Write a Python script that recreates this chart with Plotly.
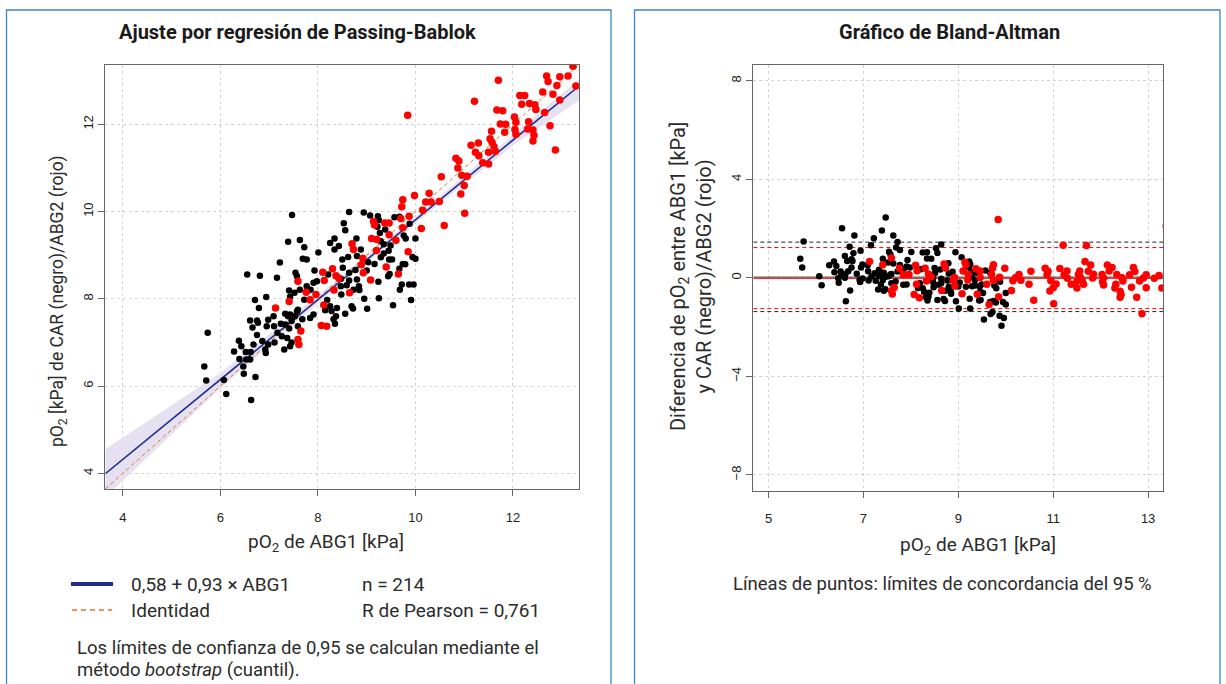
import plotly.graph_objects as go

W, H = 1226, 684

# ---------------- data ----------------
abg1_black = [5.74, 5.67, 5.71, 6.07, 6.12, 6.63, 6.72, 6.48, 6.39, 6.28, 6.38, 6.43, 6.52, 6.62, 6.53,
              6.61, 6.47, 6.86, 6.92, 6.98, 6.93, 6.68, 6.75, 6.66, 6.61, 6.75, 6.77, 6.55, 6.81, 6.71,
              6.79, 6.94, 7.16, 7.22, 7.47, 7.39, 7.63, 7.72, 7.69, 7.77, 7.54, 7.93, 8.01, 7.41, 7.52,
              7.63, 7.43, 7.85, 7.72, 7.59, 7.33, 7.39, 7.43, 7.10, 7.24, 7.41, 7.59, 7.17, 7.26, 7.37,
              7.11, 7.46, 6.95, 7.33, 7.31, 7.43, 7.57, 7.68, 7.84, 7.91, 7.77, 7.91, 7.98, 7.57, 7.09,
              6.98, 7.53, 7.46,
              8.64, 8.94, 9.07, 9.23, 9.25, 9.57, 9.67, 8.53, 8.56, 9.22, 9.27, 9.38, 9.29, 9.35, 9.49,
              9.45, 9.29, 9.35, 9.46, 9.52, 9.76, 9.80, 9.88, 10.00, 8.79, 8.34, 8.25, 8.43, 8.34, 8.88,
              8.62, 8.50, 8.80, 9.16, 9.03, 9.00, 8.77, 8.51, 8.64, 8.21, 8.47, 8.64, 8.59, 8.80, 8.84,
              8.85, 8.73, 9.24, 9.44, 9.47, 9.74, 9.67, 9.72, 9.68, 9.87, 9.96, 9.91, 9.54, 9.25, 8.95,
              9.01, 8.69, 8.72, 8.56, 8.39, 8.37, 8.32, 8.35, 8.25, 8.28, 8.15, 8.47, 8.48, 8.19, 9.94,
              10.00, 9.79]
car_black = [7.22, 6.45, 6.13, 6.14, 5.82, 5.68, 6.21, 6.28, 6.62, 6.79, 7.04, 6.91, 6.78, 6.78, 6.61,
             6.61, 6.45, 7.03, 6.84, 6.95, 6.76, 6.95, 7.17, 7.34, 7.50, 7.50, 7.45, 8.56, 8.53, 7.97,
             7.79, 8.04, 8.48, 8.83, 9.92, 9.31, 9.35, 9.18, 8.92, 8.90, 8.60, 8.65, 9.06, 8.19, 8.14,
             8.21, 8.05, 8.21, 7.98, 7.75, 7.66, 7.60, 7.64, 7.37, 7.43, 7.32, 7.37, 7.22, 7.14, 7.10,
             7.00, 7.00, 7.37, 7.41, 6.84, 6.91, 7.71, 7.53, 7.56, 7.64, 8.29, 8.37, 8.40, 8.52, 7.60,
             7.52, 7.60, 7.49,
             9.99, 9.98, 9.91, 9.89, 9.80, 9.87, 9.88, 9.73, 9.57, 9.65, 9.51, 9.59, 9.32, 9.25, 9.22,
             9.10, 8.95, 9.04, 8.90, 8.90, 9.45, 9.38, 9.72, 9.38, 9.38, 9.38, 9.28, 9.21, 9.13, 9.13,
             8.96, 8.90, 8.98, 8.80, 8.84, 8.65, 8.66, 8.71, 8.60, 8.56, 8.46, 8.42, 8.31, 8.44, 8.29,
             8.20, 8.21, 8.39, 8.52, 8.57, 8.80, 8.69, 8.33, 8.21, 8.33, 8.33, 7.97, 7.85, 8.01, 8.00,
             7.77, 7.83, 7.78, 7.66, 7.79, 7.60, 7.53, 7.43, 7.83, 7.72, 7.74, 8.29, 8.10, 7.97, 8.96,
             8.92, 8.79]

abg1_red = [9.84, 11.70, 11.21, 12.69, 12.72, 12.96, 13.13, 13.23, 13.29, 12.90, 12.14, 12.24, 12.61, 12.82,
            12.96, 12.18, 12.34, 12.45, 12.47, 11.67, 11.79, 12.65, 12.03, 12.06, 12.32, 12.76, 11.74, 11.85,
            12.30, 12.41, 12.43, 12.41, 11.56, 11.83, 12.04, 12.06, 12.87, 11.53, 11.57, 11.61, 11.64, 11.29,
            11.14, 11.23, 11.30, 11.50, 11.38, 11.50, 10.83, 10.89, 10.87, 10.95, 11.06, 10.53, 11.00, 10.93,
            9.98, 10.28, 9.74, 9.72, 10.21, 10.32, 10.49, 10.15, 11.01, 10.12, 9.87, 9.70, 9.74, 9.60,
            9.85, 9.40, 9.65, 9.46, 9.37, 9.14, 9.16, 9.46, 9.10, 9.21, 8.70, 8.73, 9.20, 8.92, 8.89,
            8.93, 9.08, 8.30, 8.37, 8.43, 8.10, 8.13, 8.33, 8.65, 8.12, 8.07, 8.18, 7.59, 7.76, 7.41,
            7.13, 7.84, 7.96, 7.65, 7.59, 7.61, 10.59, 13.38]
abg2_red = [12.21, 13.01, 12.53, 13.11, 12.98, 13.09, 13.11, 13.33, 12.88, 12.89, 12.66, 12.66, 12.74, 12.69,
            12.56, 12.46, 12.48, 12.45, 12.34, 12.33, 12.31, 12.27, 12.17, 12.05, 12.06, 11.97, 12.01, 12.00,
            11.89, 11.87, 11.75, 11.62, 11.84, 11.82, 11.88, 11.77, 11.41, 11.67, 11.59, 11.49, 11.38, 11.57,
            11.52, 11.36, 11.28, 11.36, 11.12, 11.09, 11.22, 11.16, 11.00, 10.83, 10.81, 10.80, 10.60, 10.40,
            10.37, 10.42, 10.27, 10.11, 10.22, 10.22, 10.23, 10.03, 9.96, 9.61, 9.89, 9.84, 9.63, 9.34,
            9.08, 8.73, 8.57, 9.74, 9.74, 9.77, 9.69, 9.47, 9.38, 9.36, 9.26, 9.13, 9.11, 8.93, 8.78,
            8.60, 8.43, 8.69, 8.53, 8.47, 8.61, 8.42, 8.20, 8.14, 7.86, 7.39, 7.37, 8.40, 8.15, 7.94,
            7.79, 7.98, 8.10, 7.26, 7.07, 6.95, 9.68, 15.48]

# Passing-Bablok fit (as drawn) and its confidence band
fit_intercept = 0.66
fit_slope = 0.915
band_x = [3.64, 6.0, 8.0, 9.0, 10.0, 12.0, 13.36]
band_upper = [4.55, 6.30, 8.08, 8.97, 9.88, 11.76, 13.04]
band_lower = [3.45, 5.95, 7.89, 8.83, 9.74, 11.52, 12.55]

# Bland-Altman reference lines
mean_black, loa_black = 0.03, [1.45, -1.37]
mean_red, loa_red = -0.02, [1.23, -1.25]

# axes
left_range = [3.64, 13.36]
left_ticks = [4, 6, 8, 10, 12]
ba_xrange = [4.68, 13.32]
ba_yrange = [-8.64, 8.64]
ba_xticks = [5, 7, 9, 11, 13]
ba_yticks = [-8, -4, 0, 4, 8]

# ---------------- figure ----------------
NAVY = "#1f2d8c"
ORANGE = "#e8702a"
BAND = "#e6e1f1"
BLUEBOX = "#3a86c8"
TXT = "#2b2b2b"

fig = go.Figure()

# left panel
fig.add_trace(go.Scatter(x=band_x + band_x[::-1], y=band_upper + band_lower[::-1], fill="toself",
                         fillcolor=BAND, line=dict(width=0), mode="lines", hoverinfo="skip",
                         xaxis="x", yaxis="y"))
fig.add_trace(go.Scatter(x=left_range, y=left_range, mode="lines",
                         line=dict(color=ORANGE, width=1, dash="4px,3px"), xaxis="x", yaxis="y"))
fig.add_trace(go.Scatter(x=left_range, y=[fit_intercept + fit_slope * v for v in left_range], mode="lines",
                         line=dict(color=NAVY, width=1.6), xaxis="x", yaxis="y"))
fig.add_trace(go.Scatter(x=abg1_black, y=car_black, mode="markers",
                         marker=dict(color="black", size=6.5, line=dict(width=0)), xaxis="x", yaxis="y"))
fig.add_trace(go.Scatter(x=abg1_red, y=abg2_red, mode="markers",
                         marker=dict(color="#ff0000", size=7.5, line=dict(width=0)), xaxis="x", yaxis="y"))

# right panel (Bland-Altman): difference = other method - ABG1
diff_black = [c - a for a, c in zip(abg1_black, car_black)]
diff_red = [c - a for a, c in zip(abg1_red, abg2_red)]
for yv in loa_black:
    fig.add_trace(go.Scatter(x=ba_xrange, y=[yv, yv], mode="lines",
                             line=dict(color="#222222", width=1, dash="4px,3px"), xaxis="x2", yaxis="y2"))
for yv in loa_red:
    fig.add_trace(go.Scatter(x=ba_xrange, y=[yv, yv], mode="lines",
                             line=dict(color="#ff0000", width=1, dash="4px,3px"), xaxis="x2", yaxis="y2"))
fig.add_trace(go.Scatter(x=ba_xrange, y=[mean_black, mean_black], mode="lines",
                         line=dict(color="#333333", width=1), xaxis="x2", yaxis="y2"))
fig.add_trace(go.Scatter(x=ba_xrange, y=[mean_red, mean_red], mode="lines",
                         line=dict(color="#ff0000", width=1), xaxis="x2", yaxis="y2"))
fig.add_trace(go.Scatter(x=abg1_black, y=diff_black, mode="markers",
                         marker=dict(color="black", size=6.5, line=dict(width=0)), xaxis="x2", yaxis="y2"))
fig.add_trace(go.Scatter(x=abg1_red, y=diff_red, mode="markers",
                         marker=dict(color="#ff0000", size=7.5, line=dict(width=0)), xaxis="x2", yaxis="y2"))

def px(x):
    return x / W

def py(y):
    return 1 - y / H

axis_common = dict(showline=True, mirror=True, linecolor="#666666", linewidth=1,
                   ticks="outside", ticklen=6, tickcolor="#666666", tickwidth=1,
                   showgrid=True, gridcolor="#d4d4d4", griddash="dot", gridwidth=1,
                   zeroline=False, automargin=False,
                   tickfont=dict(family="Liberation Sans, Arial, sans-serif", size=13, color="#222222"))

fig.update_layout(
    width=W, height=H, margin=dict(l=0, r=0, t=0, b=0),
    paper_bgcolor="white", plot_bgcolor="white", showlegend=False,
    xaxis=dict(domain=[px(105.3), px(579.3)], range=left_range, tickvals=left_ticks,
               ticklabelstandoff=10, anchor="y", **axis_common),
    yaxis=dict(domain=[py(489), py(65)], range=left_range, tickvals=left_ticks,
               tickangle=-90, anchor="x", **axis_common),
    xaxis2=dict(domain=[px(753.3), px(1163.3)], range=ba_xrange, tickvals=ba_xticks,
                ticklabelstandoff=10, anchor="y2", **axis_common),
    yaxis2=dict(domain=[py(490.7), py(65)], range=ba_yrange, tickvals=ba_yticks,
                tickangle=-90, anchor="x2", **axis_common),
)

# panel boxes
for x0, x1 in [(6.5, 611), (634.5, 1220)]:
    fig.add_shape(type="rect", xref="paper", yref="paper", x0=px(x0), x1=px(x1), y0=-0.05, y1=py(10),
                  line=dict(color=BLUEBOX, width=1.3), fillcolor="rgba(0,0,0,0)", layer="below")

# legend samples
fig.add_shape(type="line", xref="paper", yref="paper", x0=px(71), x1=px(113), y0=py(584), y1=py(584),
              line=dict(color=NAVY, width=4))
fig.add_shape(type="line", xref="paper", yref="paper", x0=px(72), x1=px(112), y0=py(610), y1=py(610),
              line=dict(color=ORANGE, width=1.5, dash="5px,4px"))

title_font = dict(family="Roboto, sans-serif", size=20, color="#1a1a1a")
body_font = dict(family="Roboto, sans-serif", size=18.5, color=TXT)
legend_font = dict(family="Roboto, sans-serif", size=19, color=TXT)
xtitle_font = dict(family="Roboto, sans-serif", size=19, color=TXT)
ytitle_font_l = dict(family="Roboto, sans-serif", size=17.5, color=TXT)
ytitle_font_r = dict(family="Roboto, sans-serif", size=20, color=TXT)

def note(text, x, y, font, xanchor="center", angle=0):
    fig.add_annotation(text=text, x=px(x), y=py(y), xref="paper", yref="paper", showarrow=False,
                       xanchor=xanchor, yanchor="middle", font=font, textangle=angle, align="center")

note("<b>Ajuste por regresión de Passing-Bablok</b>", 297, 32, title_font)
note("<b>Gráfico de Bland-Altman</b>", 949, 32, title_font)
note("pO<sub>2</sub> de ABG1 [kPa]", 326, 542, xtitle_font)
note("pO<sub>2</sub> de ABG1 [kPa]", 978, 545, xtitle_font)
note("pO<sub>2</sub> [kPa] de CAR (negro)/ABG2 (rojo)", 58, 301, ytitle_font_l, angle=-90)
note("Diferencia de pO<sub>2</sub> entre ABG1 [kPa]<br>y CAR (negro)/ABG2 (rojo)", 691, 277, ytitle_font_r, angle=-90)

note("0,58 + 0,93 × ABG1", 129, 584, legend_font, xanchor="left")
note("Identidad", 129, 610, legend_font, xanchor="left")
note("n = 214", 360, 584, legend_font, xanchor="left")
note("R de Pearson = 0,761", 360, 610, legend_font, xanchor="left")
note("Los límites de confianza de 0,95 se calculan mediante el", 75, 648, body_font, xanchor="left")
note("método <i>bootstrap</i> (cuantil).", 75, 670, body_font, xanchor="left")
note("Líneas de puntos: límites de concordancia del 95 %", 942, 584, body_font)

fig.write_html("out.html", config={"displayModeBar": False},
               post_script="document.body.style.margin='0';document.body.style.overflow='hidden';")
